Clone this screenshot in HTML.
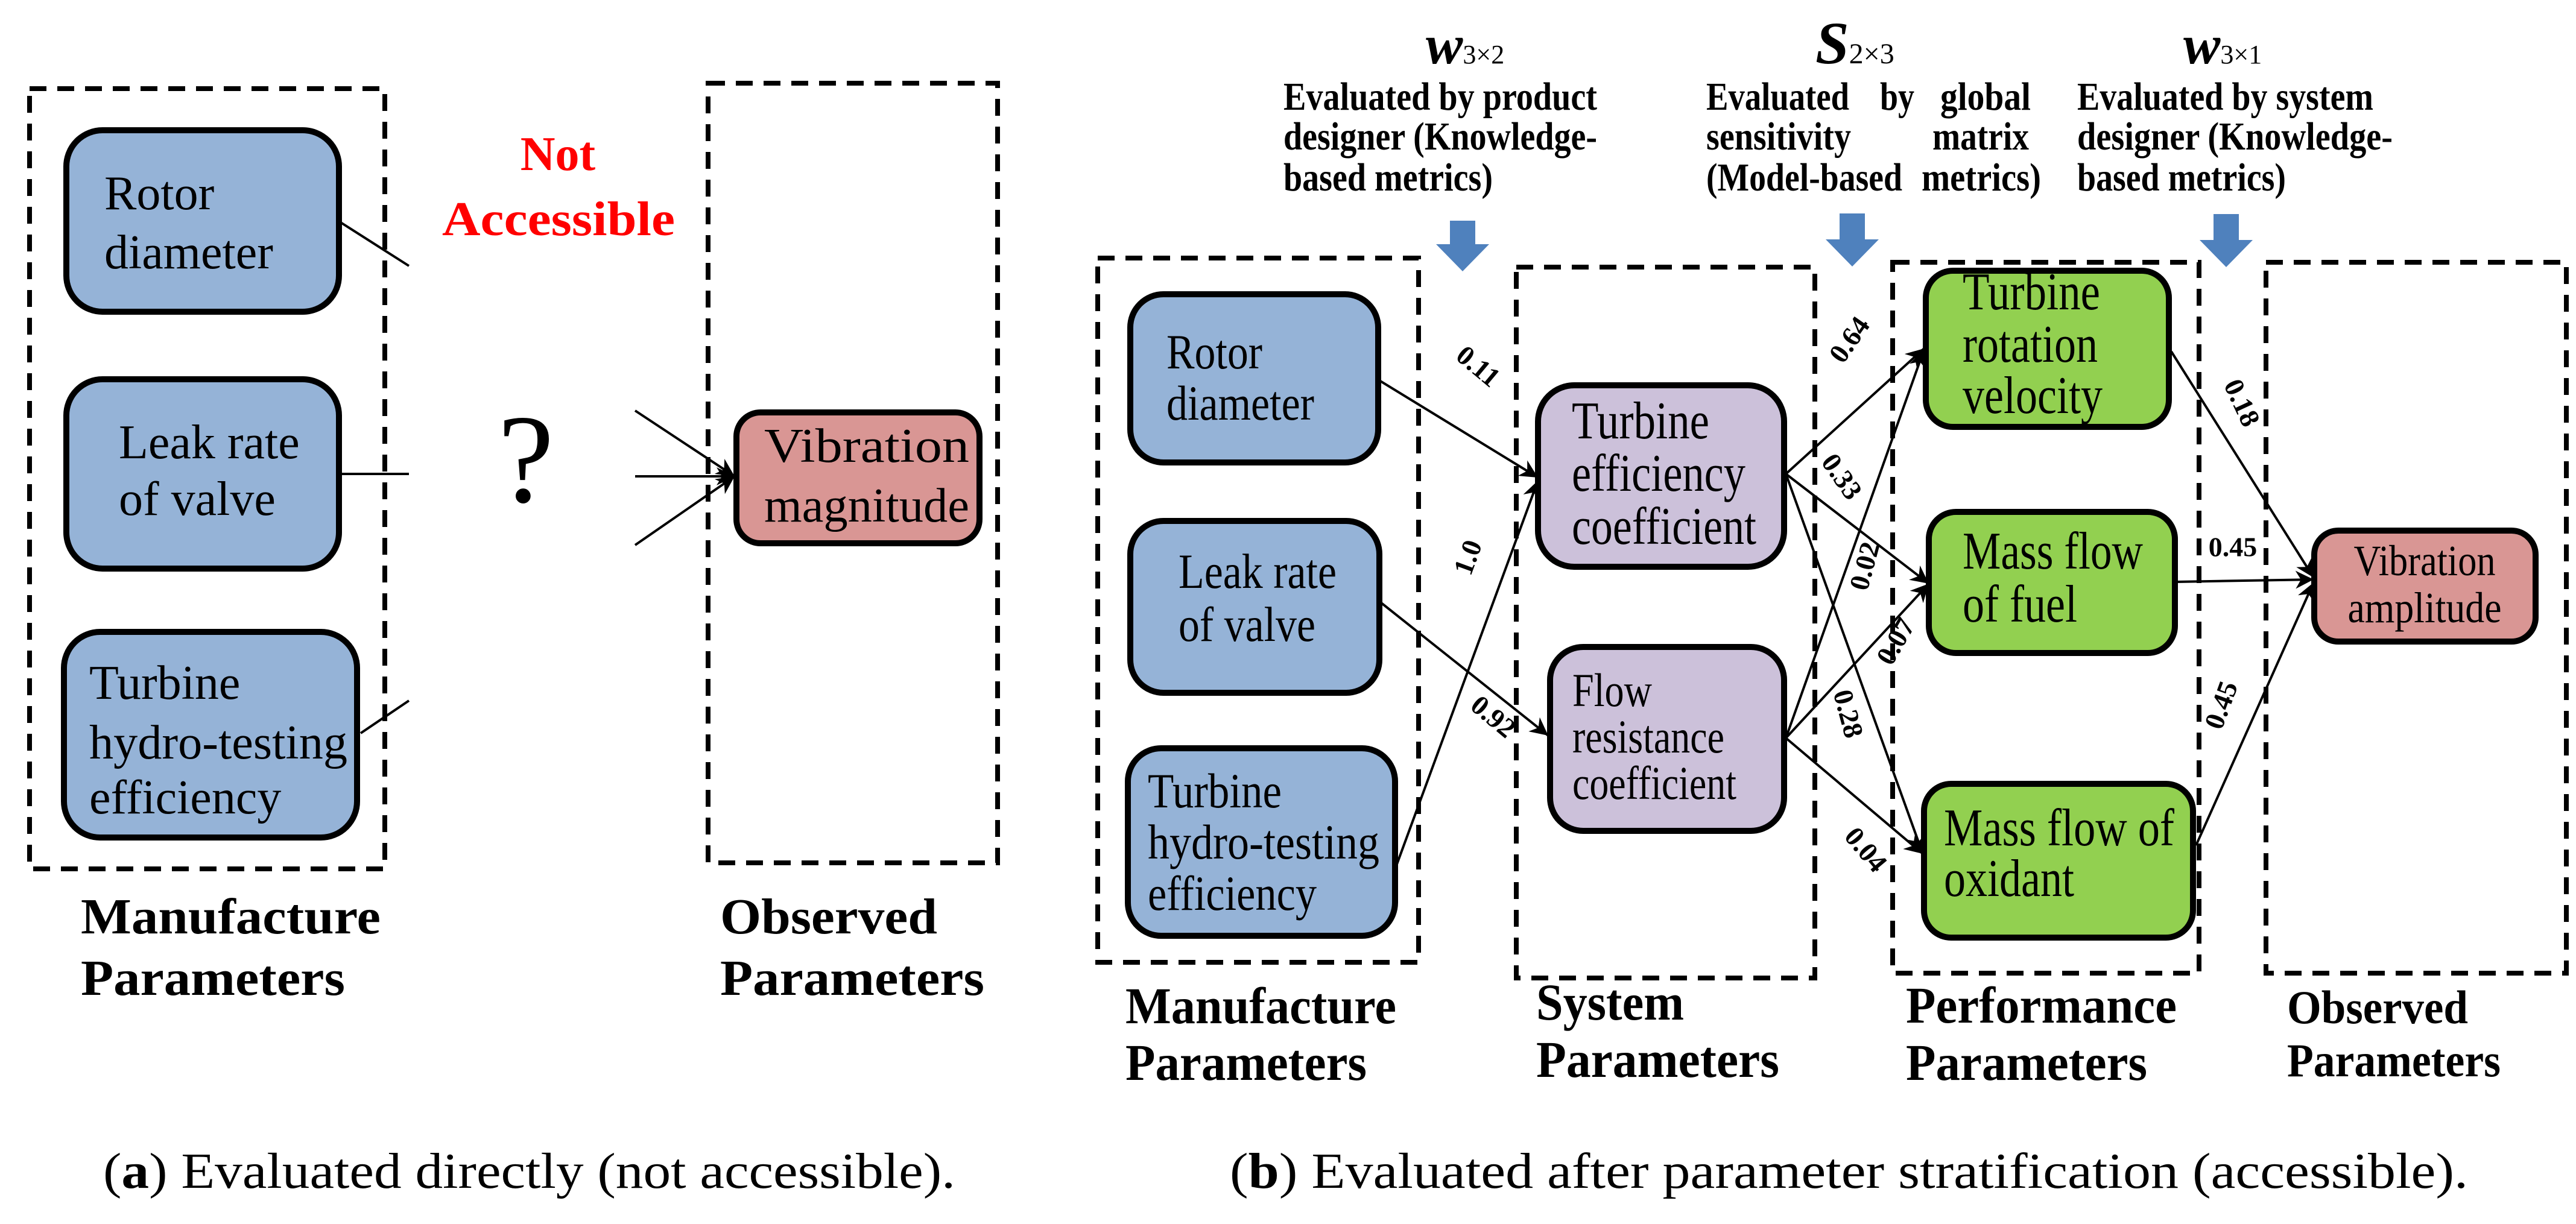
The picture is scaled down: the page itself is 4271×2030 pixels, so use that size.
<!DOCTYPE html>
<html><head><meta charset="utf-8"><style>
html,body{margin:0;padding:0;background:#fff;}
svg{display:block;}
text{font-family:"Liberation Serif","DejaVu Serif",serif;}
</style></head><body>
<svg width="4271" height="2030" viewBox="0 0 4271 2030" xmlns="http://www.w3.org/2000/svg" font-family="'Liberation Serif','DejaVu Serif',serif">
<defs>
<marker id="a" viewBox="0 0 10 10" refX="10" refY="5" markerWidth="30" markerHeight="30" markerUnits="userSpaceOnUse" orient="auto"><path d="M0,0 L10,5 L0,10 L3,5 z" fill="#000"/></marker>
</defs>
<rect width="4271" height="2030" fill="#fff"/>

<!-- ===== Panel (a) ===== -->
<g fill="none" stroke="#000" stroke-width="8" stroke-dasharray="28,18">
<rect x="49" y="147" width="589" height="1294"/>
<rect x="1174" y="138" width="480" height="1293"/>
</g>
<g stroke="#000" stroke-width="10" fill="#95b3d7">
<rect x="110" y="216" width="452" height="301" rx="60"/>
<rect x="110" y="629" width="452" height="314" rx="60"/>
<rect x="106" y="1048" width="486" height="341" rx="60"/>
</g>
<rect x="1221" y="684" width="403" height="217" rx="40" fill="#d99694" stroke="#000" stroke-width="10"/>
<g font-size="80" fill="#000">
<text x="173" y="347">Rotor</text>
<text x="173" y="445">diameter</text>
<text x="197" y="760">Leak rate</text>
<text x="197" y="854">of valve</text>
<text x="148" y="1159">Turbine</text>
<text x="148" y="1258" textLength="428" lengthAdjust="spacingAndGlyphs">hydro-testing</text>
<text x="148" y="1349">efficiency</text>
<text x="1267" y="766" textLength="340" lengthAdjust="spacingAndGlyphs">Vibration</text>
<text x="1267" y="865" textLength="340" lengthAdjust="spacingAndGlyphs">magnitude</text>
</g>
<g stroke="#000" stroke-width="4">
<line x1="565" y1="369" x2="678" y2="441"/>
<line x1="565" y1="786" x2="678" y2="786"/>
<line x1="598" y1="1216" x2="678" y2="1162"/>
<line x1="1053" y1="681" x2="1218" y2="790" marker-end="url(#a)"/>
<line x1="1053" y1="790" x2="1218" y2="790" marker-end="url(#a)"/>
<line x1="1053" y1="904" x2="1218" y2="790" marker-end="url(#a)"/>
</g>
<g fill="#ff0000" font-weight="bold" font-size="80" text-anchor="middle">
<text x="925" y="282">Not</text>
<text x="926" y="390" textLength="386" lengthAdjust="spacingAndGlyphs">Accessible</text>
</g>
<text x="872" y="832" font-size="210" text-anchor="middle">?</text>
<g font-weight="bold" font-size="84">
<text x="134" y="1548" textLength="497" lengthAdjust="spacingAndGlyphs">Manufacture</text>
<text x="134" y="1650" textLength="438" lengthAdjust="spacingAndGlyphs">Parameters</text>
<text x="1194" y="1548" textLength="360" lengthAdjust="spacingAndGlyphs">Observed</text>
<text x="1194" y="1650" textLength="438" lengthAdjust="spacingAndGlyphs">Parameters</text>
</g>
<text x="171" y="1970" font-size="84" textLength="1413" lengthAdjust="spacingAndGlyphs">(<tspan font-weight="bold">a</tspan>) Evaluated directly (not accessible).</text>

<!-- ===== Panel (b) ===== -->
<g fill="none" stroke="#000" stroke-width="8" stroke-dasharray="28,18">
<rect x="1820" y="428" width="532" height="1168"/>
<rect x="2514" y="443" width="495" height="1179"/>
<rect x="3138" y="435" width="508" height="1179"/>
<rect x="3757" y="435" width="498" height="1179"/>
</g>
<g fill="#4f81bd">
<polygon points="2404,366 2446,366 2446,405 2469,405 2425,450 2381,405 2404,405"/>
<polygon points="3050,354 3092,354 3092,397 3115,397 3071,442 3027,397 3050,397"/>
<polygon points="3670,355 3712,355 3712,398 3735,398 3691,443 3647,398 3670,398"/>
</g>
<g stroke="#000" stroke-width="10">
<rect x="1874" y="488" width="411" height="279" rx="55" fill="#95b3d7"/>
<rect x="1874" y="864" width="413" height="285" rx="55" fill="#95b3d7"/>
<rect x="1870" y="1241" width="443" height="311" rx="55" fill="#95b3d7"/>
<rect x="2550" y="639" width="408" height="301" rx="60" fill="#ccc1da"/>
<rect x="2570" y="1073" width="388" height="305" rx="55" fill="#ccc1da"/>
<rect x="3193" y="449" width="403" height="259" rx="45" fill="#92d050"/>
<rect x="3198" y="849" width="408" height="234" rx="45" fill="#92d050"/>
<rect x="3190" y="1300" width="446" height="255" rx="45" fill="#92d050"/>
<rect x="3837" y="880" width="367" height="184" rx="40" fill="#d99694"/>
</g>
<g font-size="82" fill="#000">
<text x="1934" y="611" textLength="159" lengthAdjust="spacingAndGlyphs">Rotor</text>
<text x="1934" y="696" textLength="245" lengthAdjust="spacingAndGlyphs">diameter</text>
<text x="1954" y="975" textLength="262" lengthAdjust="spacingAndGlyphs">Leak rate</text>
<text x="1954" y="1063" textLength="227" lengthAdjust="spacingAndGlyphs">of valve</text>
<text x="1903" y="1339" textLength="222" lengthAdjust="spacingAndGlyphs">Turbine</text>
<text x="1903" y="1424" textLength="384" lengthAdjust="spacingAndGlyphs">hydro-testing</text>
<text x="1903" y="1509" textLength="280" lengthAdjust="spacingAndGlyphs">efficiency</text>
</g>
<g font-size="88" fill="#000">
<text x="2606" y="727" textLength="228" lengthAdjust="spacingAndGlyphs">Turbine</text>
<text x="2606" y="814" textLength="288" lengthAdjust="spacingAndGlyphs">efficiency</text>
<text x="2606" y="902" textLength="306" lengthAdjust="spacingAndGlyphs">coefficient</text>
<text x="2607" y="1171" font-size="78" textLength="132" lengthAdjust="spacingAndGlyphs">Flow</text>
<text x="2607" y="1248" font-size="78" textLength="252" lengthAdjust="spacingAndGlyphs">resistance</text>
<text x="2607" y="1325" font-size="78" textLength="272" lengthAdjust="spacingAndGlyphs">coefficient</text>
<text x="3254" y="513" textLength="228" lengthAdjust="spacingAndGlyphs">Turbine</text>
<text x="3254" y="600" textLength="224" lengthAdjust="spacingAndGlyphs">rotation</text>
<text x="3254" y="685" textLength="232" lengthAdjust="spacingAndGlyphs">velocity</text>
<text x="3254" y="943" textLength="299" lengthAdjust="spacingAndGlyphs">Mass flow</text>
<text x="3254" y="1031" textLength="190" lengthAdjust="spacingAndGlyphs">of fuel</text>
<text x="3223" y="1402" textLength="382" lengthAdjust="spacingAndGlyphs">Mass flow of</text>
<text x="3223" y="1486" textLength="216" lengthAdjust="spacingAndGlyphs">oxidant</text>
<text x="4020" y="954" font-size="72" text-anchor="middle" textLength="235" lengthAdjust="spacingAndGlyphs">Vibration</text>
<text x="4020" y="1032" font-size="72" text-anchor="middle" textLength="255" lengthAdjust="spacingAndGlyphs">amplitude</text>
</g>
<g stroke="#000" stroke-width="4" fill="none">
<line x1="2287" y1="631" x2="2550" y2="792" marker-end="url(#a)"/>
<line x1="2289" y1="999" x2="2567" y2="1220" marker-end="url(#a)"/>
<line x1="2315" y1="1436" x2="2550" y2="797" marker-end="url(#a)"/>
<line x1="2961" y1="786" x2="3190" y2="578" marker-end="url(#a)"/>
<line x1="2961" y1="786" x2="3198" y2="968" marker-end="url(#a)"/>
<line x1="2961" y1="786" x2="3188" y2="1416" marker-end="url(#a)"/>
<line x1="2961" y1="1224" x2="3190" y2="580" marker-end="url(#a)"/>
<line x1="2961" y1="1224" x2="3198" y2="968" marker-end="url(#a)"/>
<line x1="2961" y1="1224" x2="3188" y2="1416" marker-end="url(#a)"/>
<line x1="3600" y1="583" x2="3836" y2="958" marker-end="url(#a)"/>
<line x1="3608" y1="965" x2="3836" y2="961" marker-end="url(#a)"/>
<line x1="3641" y1="1402" x2="3836" y2="966" marker-end="url(#a)"/>
</g>
<g font-size="46" font-weight="bold" text-anchor="middle" dominant-baseline="middle">
<text transform="translate(2448,611) rotate(40)">0.11</text>
<text transform="translate(2438,926) rotate(-70)">1.0</text>
<text transform="translate(2473,1192) rotate(40)">0.92</text>
<text transform="translate(3070,566) rotate(-55)">0.64</text>
<text transform="translate(3050,793) rotate(55)">0.33</text>
<text transform="translate(3096,940) rotate(-75)">0.02</text>
<text transform="translate(3147,1066) rotate(-60)">0.07</text>
<text transform="translate(3060,1185) rotate(75)">0.28</text>
<text transform="translate(3090,1412) rotate(50)">0.04</text>
<text transform="translate(3713,670) rotate(65)">0.18</text>
<text transform="translate(3702,912)">0.45</text>
<text transform="translate(3687,1171) rotate(-70)">0.45</text>
</g>
<text x="2364" y="105" font-size="92" font-weight="bold" font-style="italic">w<tspan font-size="44" font-weight="normal" font-style="normal">3×2</tspan></text>
<text x="3010" y="105" font-size="100" font-weight="bold" font-style="italic">S<tspan font-size="48" font-weight="normal" font-style="normal">2×3</tspan></text>
<text x="3620" y="105" font-size="92" font-weight="bold" font-style="italic">w<tspan font-size="44" font-weight="normal" font-style="normal">3×1</tspan></text>
<g font-size="66" font-weight="bold">
<text x="2128" y="182" textLength="520" lengthAdjust="spacingAndGlyphs">Evaluated by product</text>
<text x="2128" y="248" textLength="520" lengthAdjust="spacingAndGlyphs">designer (Knowledge-</text>
<text x="2128" y="316" textLength="347" lengthAdjust="spacingAndGlyphs">based metrics)</text>
<text x="2829" y="182" textLength="237" lengthAdjust="spacingAndGlyphs">Evaluated</text>
<text x="3117" y="182" textLength="57" lengthAdjust="spacingAndGlyphs">by</text>
<text x="3217" y="182" textLength="150" lengthAdjust="spacingAndGlyphs">global</text>
<text x="2829" y="248" textLength="240" lengthAdjust="spacingAndGlyphs">sensitivity</text>
<text x="3204" y="248" textLength="160" lengthAdjust="spacingAndGlyphs">matrix</text>
<text x="2829" y="316" textLength="325" lengthAdjust="spacingAndGlyphs">(Model-based</text>
<text x="3186" y="316" textLength="198" lengthAdjust="spacingAndGlyphs">metrics)</text>
<text x="3444" y="182" textLength="491" lengthAdjust="spacingAndGlyphs">Evaluated by system</text>
<text x="3444" y="248" textLength="523" lengthAdjust="spacingAndGlyphs">designer (Knowledge-</text>
<text x="3444" y="316" textLength="346" lengthAdjust="spacingAndGlyphs">based metrics)</text>
</g>
<g font-size="86" font-weight="bold">
<text x="1866" y="1697" textLength="449" lengthAdjust="spacingAndGlyphs">Manufacture</text>
<text x="1866" y="1791" textLength="400" lengthAdjust="spacingAndGlyphs">Parameters</text>
<text x="2547" y="1691" textLength="245" lengthAdjust="spacingAndGlyphs">System</text>
<text x="2547" y="1786" textLength="403" lengthAdjust="spacingAndGlyphs">Parameters</text>
<text x="3160" y="1696" textLength="449" lengthAdjust="spacingAndGlyphs">Performance</text>
<text x="3160" y="1791" textLength="400" lengthAdjust="spacingAndGlyphs">Parameters</text>
<text x="3792" y="1697" font-size="78" textLength="300" lengthAdjust="spacingAndGlyphs">Observed</text>
<text x="3792" y="1785" font-size="78" textLength="354" lengthAdjust="spacingAndGlyphs">Parameters</text>
</g>
<text x="2039" y="1970" font-size="84" textLength="2053" lengthAdjust="spacingAndGlyphs">(<tspan font-weight="bold">b</tspan>) Evaluated after parameter stratification (accessible).</text>
</svg>
</body></html>
